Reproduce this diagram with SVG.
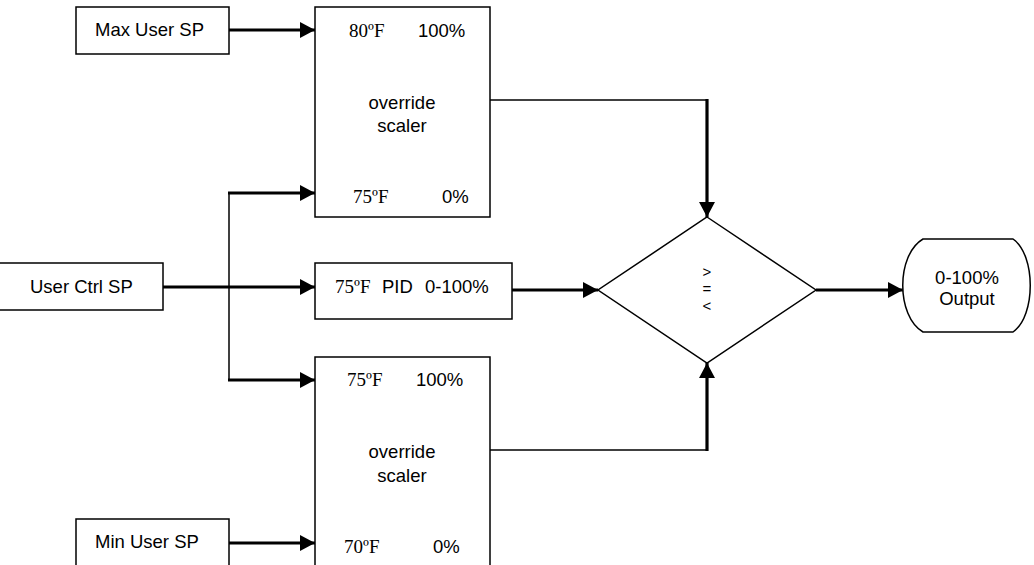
<svg xmlns="http://www.w3.org/2000/svg" width="1034" height="565" viewBox="0 0 1034 565">
<defs>
<style>
.box{fill:#fff;stroke:#000;stroke-width:1.5}
.thin{fill:none;stroke:#000;stroke-width:1.5}
.thick{fill:none;stroke:#000;stroke-width:3.2}
.arr{marker-end:url(#ah)}
.s{font-family:"Liberation Sans",Arial,sans-serif;font-size:18.5px;fill:#000}
.t{font-family:"Liberation Serif","Times New Roman",serif;font-size:19px;fill:#000}
.c{text-anchor:middle}
.op{font-size:15px}
</style>
<marker id="ah" markerUnits="userSpaceOnUse" markerWidth="16" markerHeight="18" refX="15" refY="8" orient="auto" viewBox="0 0 16 16">
<path d="M0,0 L15,8 L0,16 Z" fill="#000"/>
</marker>
</defs>
<rect width="1034" height="565" fill="#fff"/>
<g id="connectors">
<line class="thick arr" x1="229" y1="30" x2="315" y2="30"/>
<line class="thick arr" x1="163" y1="287" x2="315" y2="287"/>
<line class="thin" x1="229" y1="193" x2="229" y2="380"/>
<line class="thick arr" x1="228" y1="193" x2="315" y2="193"/>
<line class="thick arr" x1="228" y1="380" x2="315" y2="380"/>
<line class="thick arr" x1="229" y1="543" x2="315" y2="543"/>
<line class="thick arr" x1="512" y1="290" x2="598" y2="290"/>
<polyline class="thin" points="490,100 707,100"/>
<line class="thick arr" x1="707" y1="99" x2="707" y2="217"/>
<polyline class="thin" points="490,450 707,450"/>
<line class="thick arr" x1="707" y1="451" x2="707" y2="363"/>
<line class="thick arr" x1="816" y1="290" x2="903" y2="290"/>
</g>
<g id="max-user-sp">
<rect class="box" x="76" y="7" width="153" height="47"/>
<text class="s" x="95" y="36">Max User SP</text>
</g>
<g id="user-ctrl-sp">
<rect class="box" x="-5" y="263" width="168" height="47"/>
<text class="s" x="30" y="293">User Ctrl SP</text>
</g>
<g id="min-user-sp">
<rect class="box" x="76" y="519" width="153" height="70"/>
<text class="s" x="95" y="548">Min User SP</text>
</g>
<g id="max-scaler">
<rect class="box" x="315" y="7" width="175" height="210"/>
<text class="t" x="349" y="37">80ºF</text>
<text class="s" x="418" y="37">100%</text>
<text class="s c" x="402" y="109">override</text>
<text class="s c" x="402" y="132">scaler</text>
<text class="t" x="353" y="203">75ºF</text>
<text class="s" x="442" y="203">0%</text>
</g>
<g id="pid">
<rect class="box" x="315" y="263" width="197" height="56"/>
<text class="t" x="335" y="293">75ºF</text>
<text class="s" x="382" y="293">PID</text>
<text class="s" x="425" y="293">0-100%</text>
</g>
<g id="min-scaler">
<rect class="box" x="315" y="357" width="175" height="240"/>
<text class="t" x="347" y="386">75ºF</text>
<text class="s" x="416" y="386">100%</text>
<text class="s c" x="402" y="458">override</text>
<text class="s c" x="402" y="482">scaler</text>
<text class="t" x="344" y="553">70ºF</text>
<text class="s" x="433" y="553">0%</text>
</g>
<g id="selector">
<polygon class="box" points="707,217 816,290 707,363 598,290"/>
<text class="s c op" x="707" y="277">&gt;</text>
<text class="s c op" x="707" y="294">=</text>
<text class="s c op" x="707" y="311">&lt;</text>
</g>
<g id="output">
<path class="box" d="M923,239 L1013,239 C1036,255 1036,316 1013,332 L923,332 C896,316 896,255 923,239 Z"/>
<text class="s c" x="967" y="284">0-100%</text>
<text class="s c" x="967" y="305">Output</text>
</g>
</svg>
